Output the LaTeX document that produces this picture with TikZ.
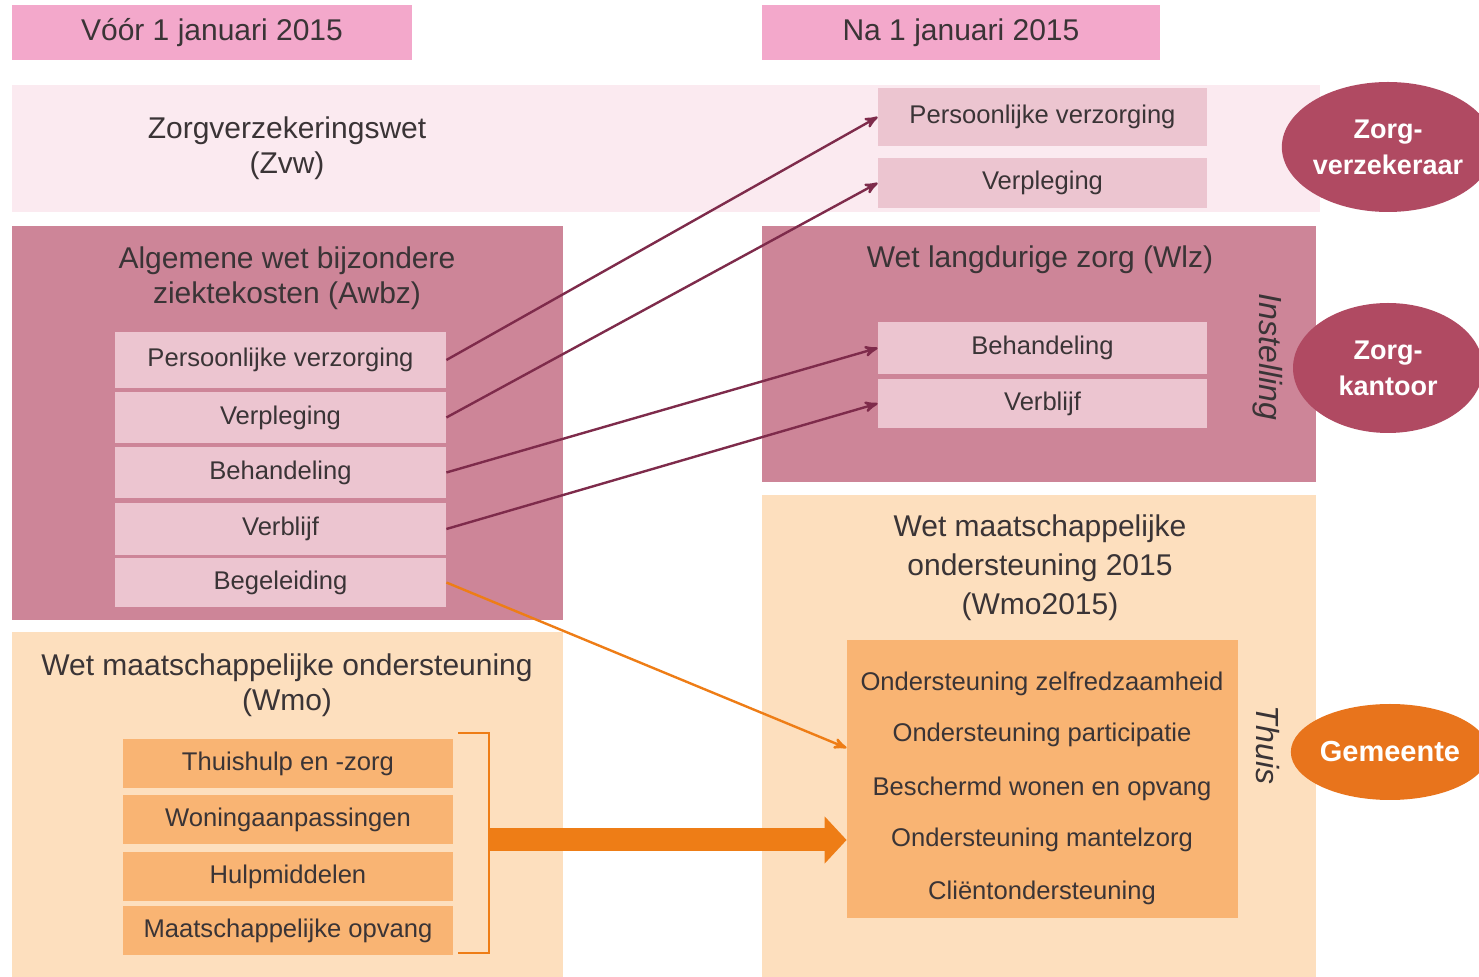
\documentclass[tikz,border=0pt]{standalone}
\usepackage{fontspec}
\setmainfont{Liberation Sans}
\usepackage{tikz}
\usetikzlibrary{arrows,arrows.meta,shapes.geometric}

\definecolor{txt}{RGB}{58,52,54}
\definecolor{hdrpink}{RGB}{243,168,203}
\definecolor{zvwpink}{RGB}{251,234,240}
\definecolor{dusky}{RGB}{205,133,152}
\definecolor{itempink}{RGB}{236,197,208}
\definecolor{rose}{RGB}{176,74,98}
\definecolor{arrowrose}{RGB}{126,43,75}
\definecolor{peach}{RGB}{253,223,190}
\definecolor{itemorange}{RGB}{249,180,115}
\definecolor{orangedark}{RGB}{238,125,22}
\definecolor{gemeente}{RGB}{232,116,28}

\begin{document}
\begin{tikzpicture}[x=0.5pt,y=-0.5pt]
\tikzstyle{every node} = [font = \fontsize{12.8}{15}\selectfont, text=txt, inner sep=0pt]
\tikzstyle{hdr} = [fill=hdrpink, minimum height=27.5pt, font=\fontsize{15}{18}\selectfont]
\tikzstyle{lawtitle} = [align=center, font=\fontsize{15}{17.5}\selectfont]
\tikzstyle{pinkitem} = [fill=itempink, minimum width=165.5pt]
\tikzstyle{orangeitem} = [fill=itemorange, minimum width=165pt, minimum height=24.5pt]
\tikzstyle{office} = [ellipse, fill=rose, text=white, align=center, font=\bfseries\fontsize{13.5}{18}\selectfont]
\tikzstyle{side} = [rotate=-90, font=\itshape\fontsize{16}{18}\selectfont]
\tikzstyle{moved} = [->,>=stealth', line width=1.2pt, draw=arrowrose]
\useasboundingbox (0,0) rectangle (1479,977);

		% kopjes
		\node [hdr, minimum width=200pt] (before) at (212,32.5) {Vóór 1 januari 2015};
		\node [hdr, minimum width=199pt] (after) at (961,32.5) {Na 1 januari 2015};

		% vlakken
		\node [fill=zvwpink, minimum width=654pt, minimum height=63.5pt] (zvw) at (666,148.5) {};
		\node [fill=dusky, minimum width=275.5pt, minimum height=197pt] (awbz) at (287.5,423) {};
		\node [fill=dusky, minimum width=277pt, minimum height=128pt] (wlz) at (1039,354) {};
		\node [fill=peach, minimum width=275.5pt, minimum height=172.5pt] (wmo) at (287.5,804.5) {};
		\node [fill=peach, minimum width=277pt, minimum height=241pt] (wmonew) at (1039,736) {};
		\node [fill=itemorange, minimum width=195.5pt, minimum height=139pt] (wmoinner) at (1042.5,779) {};

		\node [lawtitle] (zvwtitle) at (287,148) {Zorgverzekeringswet\\(Zvw)};
		\node [lawtitle] (awbztitle) at (287,278) {Algemene wet bijzondere\\ziektekosten (Awbz)};
		\node [lawtitle] (wlztitle) at (1040,260) {Wet langdurige zorg (Wlz)};
		\node [lawtitle] (wmotitle) at (287,685) {Wet maatschappelijke ondersteuning\\(Wmo)};
		\node [lawtitle, font=\fontsize{15}{19.5}\selectfont] (wmonewtitle) at (1040,568) {Wet maatschappelijke\\ondersteuning 2015\\(Wmo2015)};

		% Awbz
		\node [pinkitem, minimum height=28pt] (pvold) at (280.5,360) {Persoonlijke verzorging};
		\node [pinkitem, minimum height=25.5pt] (vpold) at (280.5,417.5) {Verpleging};
		\node [pinkitem, minimum height=25.5pt] (behold) at (280.5,472.5) {Behandeling};
		\node [pinkitem, minimum height=26pt] (vbold) at (280.5,529) {Verblijf};
		\node [pinkitem, minimum height=24.5pt] (begold) at (280.5,582.5) {Begeleiding};

		% Zvw en Wlz
		\node [pinkitem, minimum width=164.5pt, minimum height=29pt] (pvnew) at (1042.5,117) {Persoonlijke verzorging};
		\node [pinkitem, minimum width=164.5pt, minimum height=25pt] (vpnew) at (1042.5,183) {Verpleging};
		\node [pinkitem, minimum width=164.5pt, minimum height=26pt] (behnew) at (1042.5,348) {Behandeling};
		\node [pinkitem, minimum width=164.5pt, minimum height=24.5pt] (vbnew) at (1042.5,403.5) {Verblijf};

		% Wmo
		\node [orangeitem] (thuishulp) at (288,764) {Thuishulp en -zorg};
		\node [orangeitem] (woning) at (288,820) {Woningaanpassingen};
		\node [orangeitem] (hulp) at (288,877) {Hulpmiddelen};
		\node [orangeitem] (opvang) at (288,930.5) {Maatschappelijke opvang};

		\node (zelf) at (1042,684) {Ondersteuning zelfredzaamheid};
		\node (partic) at (1042,735) {Ondersteuning participatie};
		\node (beschermd) at (1042,789) {Beschermd wonen en opvang};
		\node (mantel) at (1042,840) {Ondersteuning mantelzorg};
		\node (client) at (1042,893) {Cliëntondersteuning};

		\node [side] (instelling) at (1268,357) {Instelling};
		\node [side] (thuis) at (1268,745) {Thuis};

		% uitvoerders
		\node [office, minimum width=95pt, minimum height=65pt] (verzekeraar) at (1388,147) {Zorg-\\verzekeraar};
		\node [office, minimum width=95pt, minimum height=65pt] (kantoor) at (1388,368) {Zorg-\\kantoor};
		\node [office, fill=gemeente, minimum width=90pt, minimum height=48pt, font=\bfseries\fontsize{14.5}{18}\selectfont] (gemeente) at (1390,752) {Gemeente};

		% verschuivingen
		\draw[moved] (pvold.east) -- (pvnew.west);
		\draw[moved] (vpold.east) -- (vpnew.west);
		\draw[moved] (behold.east) -- (behnew.west);
		\draw[moved] (vbold.east) -- (vbnew.west);
		\draw[->,>=stealth', line width=1.2pt, draw=orangedark] (begold.east) -- (wmoinner.171);

		\draw[draw=orangedark, line width=1pt] (458,733) -- (489,733) -- (489,953) -- (458,953);
		\coordinate (brk) at (489,840);
		\draw[line width=11.5pt, draw=orangedark, -{Triangle[length=11pt,width=23pt]}] (brk) -- (brk -| wmoinner.west);

\end{tikzpicture}
\end{document}
